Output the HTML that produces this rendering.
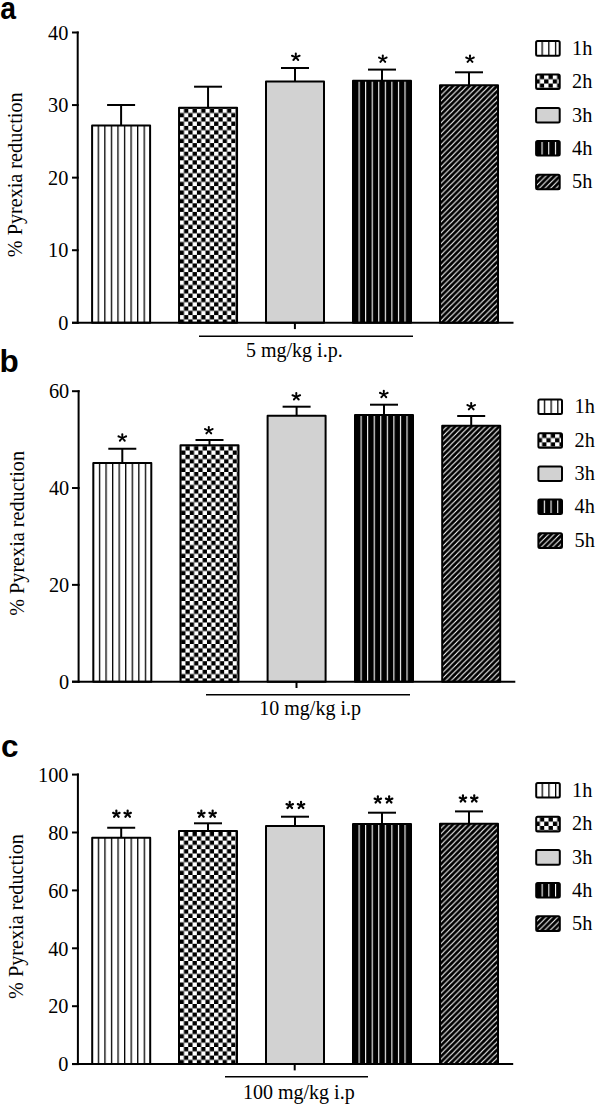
<!DOCTYPE html>
<html><head><meta charset="utf-8"><title>Pyrexia reduction</title>
<style>html,body{margin:0;padding:0;background:#fff;}svg{display:block;}.sf{font-family:"Liberation Serif",serif;}.ss{font-family:"Liberation Sans",sans-serif;}</style></head>
<body><svg width="600" height="1106" viewBox="0 0 600 1106">
<defs><pattern id="p0_a0" patternUnits="userSpaceOnUse" x="97.65" y="0" width="6.56" height="10"><rect width="6.56" height="10" fill="#fff"/><rect width="1.3" height="10" fill="#000"/></pattern><pattern id="p1_a1" patternUnits="userSpaceOnUse" x="179.7" y="108.7" width="8.6" height="8.6"><rect width="8.6" height="8.6" fill="#fff"/><rect x="4.3" width="4.3" height="4.3" fill="#000"/><rect y="4.3" width="4.3" height="4.3" fill="#000"/></pattern><pattern id="p3_a3" patternUnits="userSpaceOnUse" x="358.55" y="0" width="6.56" height="10"><rect width="6.56" height="10" fill="#000"/><rect width="1.1" height="10" fill="#fff"/></pattern><pattern id="p4_a4" patternUnits="userSpaceOnUse" x="440" y="85.3" width="5.5" height="5.5"><rect width="5.5" height="5.5" fill="#000"/><path d="M-1,6.5L6.5,-1M-3.75,3.75L3.75,-3.75M1.75,9.25L9.25,1.75" stroke="#fff" stroke-width="1.1"/></pattern><pattern id="q0_La0" patternUnits="userSpaceOnUse" x="541.5" y="0" width="6.7" height="10"><rect width="6.7" height="10" fill="#fff"/><rect width="1.3" height="10" fill="#000"/></pattern><pattern id="q1_La1" patternUnits="userSpaceOnUse" x="535.47" y="74.9" width="8.66" height="8.66"><rect width="8.66" height="8.66" fill="#fff"/><rect x="4.33" width="4.33" height="4.33" fill="#000"/><rect y="4.33" width="4.33" height="4.33" fill="#000"/></pattern><pattern id="q3_La3" patternUnits="userSpaceOnUse" x="541.5" y="0" width="6.7" height="10"><rect width="6.7" height="10" fill="#000"/><rect width="1.1" height="10" fill="#fff"/></pattern><pattern id="q4_La4" patternUnits="userSpaceOnUse" x="536.1" y="174.7" width="5.6" height="5.6"><rect width="5.6" height="5.6" fill="#000"/><path d="M-1,6.6L6.6,-1M-3.8,3.8L3.8,-3.8M1.8,9.4L9.4,1.8" stroke="#fff" stroke-width="1"/></pattern><pattern id="p0_b0" patternUnits="userSpaceOnUse" x="98.85" y="0" width="6.56" height="10"><rect width="6.56" height="10" fill="#fff"/><rect width="1.3" height="10" fill="#000"/></pattern><pattern id="p1_b1" patternUnits="userSpaceOnUse" x="181.15" y="446.2" width="8.6" height="8.6"><rect width="8.6" height="8.6" fill="#fff"/><rect x="4.3" width="4.3" height="4.3" fill="#000"/><rect y="4.3" width="4.3" height="4.3" fill="#000"/></pattern><pattern id="p3_b3" patternUnits="userSpaceOnUse" x="360.55" y="0" width="6.56" height="10"><rect width="6.56" height="10" fill="#000"/><rect width="1.1" height="10" fill="#fff"/></pattern><pattern id="p4_b4" patternUnits="userSpaceOnUse" x="442.2" y="425.7" width="5.5" height="5.5"><rect width="5.5" height="5.5" fill="#000"/><path d="M-1,6.5L6.5,-1M-3.75,3.75L3.75,-3.75M1.75,9.25L9.25,1.75" stroke="#fff" stroke-width="1.1"/></pattern><pattern id="q0_Lb0" patternUnits="userSpaceOnUse" x="543.8" y="0" width="6.7" height="10"><rect width="6.7" height="10" fill="#fff"/><rect width="1.3" height="10" fill="#000"/></pattern><pattern id="q1_Lb1" patternUnits="userSpaceOnUse" x="537.77" y="433.7" width="8.66" height="8.66"><rect width="8.66" height="8.66" fill="#fff"/><rect x="4.33" width="4.33" height="4.33" fill="#000"/><rect y="4.33" width="4.33" height="4.33" fill="#000"/></pattern><pattern id="q3_Lb3" patternUnits="userSpaceOnUse" x="543.8" y="0" width="6.7" height="10"><rect width="6.7" height="10" fill="#000"/><rect width="1.1" height="10" fill="#fff"/></pattern><pattern id="q4_Lb4" patternUnits="userSpaceOnUse" x="538.4" y="533.3" width="5.6" height="5.6"><rect width="5.6" height="5.6" fill="#000"/><path d="M-1,6.6L6.6,-1M-3.8,3.8L3.8,-3.8M1.8,9.4L9.4,1.8" stroke="#fff" stroke-width="1"/></pattern><pattern id="p0_c0" patternUnits="userSpaceOnUse" x="97.75" y="0" width="6.56" height="10"><rect width="6.56" height="10" fill="#fff"/><rect width="1.3" height="10" fill="#000"/></pattern><pattern id="p1_c1" patternUnits="userSpaceOnUse" x="179.65" y="832" width="8.6" height="8.6"><rect width="8.6" height="8.6" fill="#fff"/><rect x="4.3" width="4.3" height="4.3" fill="#000"/><rect y="4.3" width="4.3" height="4.3" fill="#000"/></pattern><pattern id="p3_c3" patternUnits="userSpaceOnUse" x="358.55" y="0" width="6.56" height="10"><rect width="6.56" height="10" fill="#000"/><rect width="1.1" height="10" fill="#fff"/></pattern><pattern id="p4_c4" patternUnits="userSpaceOnUse" x="440" y="823.7" width="5.5" height="5.5"><rect width="5.5" height="5.5" fill="#000"/><path d="M-1,6.5L6.5,-1M-3.75,3.75L3.75,-3.75M1.75,9.25L9.25,1.75" stroke="#fff" stroke-width="1.1"/></pattern><pattern id="q0_Lc0" patternUnits="userSpaceOnUse" x="541.6" y="0" width="6.7" height="10"><rect width="6.7" height="10" fill="#fff"/><rect width="1.3" height="10" fill="#000"/></pattern><pattern id="q1_Lc1" patternUnits="userSpaceOnUse" x="535.57" y="817.3" width="8.66" height="8.66"><rect width="8.66" height="8.66" fill="#fff"/><rect x="4.33" width="4.33" height="4.33" fill="#000"/><rect y="4.33" width="4.33" height="4.33" fill="#000"/></pattern><pattern id="q3_Lc3" patternUnits="userSpaceOnUse" x="541.6" y="0" width="6.7" height="10"><rect width="6.7" height="10" fill="#000"/><rect width="1.1" height="10" fill="#fff"/></pattern><pattern id="q4_Lc4" patternUnits="userSpaceOnUse" x="536.2" y="916.3" width="5.6" height="5.6"><rect width="5.6" height="5.6" fill="#000"/><path d="M-1,6.6L6.6,-1M-3.8,3.8L3.8,-3.8M1.8,9.4L9.4,1.8" stroke="#fff" stroke-width="1"/></pattern></defs>
<rect width="600" height="1106" fill="#fff"/>
<text transform="translate(0.3,18.6) scale(0.9,1)" class="ss" font-weight="bold" font-size="31.5">a</text>
<text transform="translate(22.3,174.8) rotate(-90)" text-anchor="middle" class="sf" font-size="20.2">% Pyrexia reduction</text>
<line x1="72" y1="322.8" x2="78.7" y2="322.8" stroke="#000" stroke-width="2"/>
<text x="68.3" y="330" text-anchor="end" class="sf" font-size="20.3">0</text>
<line x1="72" y1="250.23" x2="78.7" y2="250.23" stroke="#000" stroke-width="2"/>
<text x="68.3" y="257.43" text-anchor="end" class="sf" font-size="20.3">10</text>
<line x1="72" y1="177.65" x2="78.7" y2="177.65" stroke="#000" stroke-width="2"/>
<text x="68.3" y="184.85" text-anchor="end" class="sf" font-size="20.3">20</text>
<line x1="72" y1="105.07" x2="78.7" y2="105.07" stroke="#000" stroke-width="2"/>
<text x="68.3" y="112.27" text-anchor="end" class="sf" font-size="20.3">30</text>
<line x1="72" y1="32.5" x2="78.7" y2="32.5" stroke="#000" stroke-width="2"/>
<text x="68.3" y="39.7" text-anchor="end" class="sf" font-size="20.3">40</text>
<line x1="77.7" y1="31.5" x2="77.7" y2="323.8" stroke="#000" stroke-width="2"/>
<line x1="121.1" y1="105" x2="121.1" y2="125.6" stroke="#000" stroke-width="2"/>
<line x1="107.1" y1="105" x2="135.1" y2="105" stroke="#000" stroke-width="2"/>
<rect x="92.1" y="125.6" width="58" height="197.2" fill="url(#p0_a0)" stroke="#000" stroke-width="2" stroke-linejoin="round"/>
<line x1="208.05" y1="86.7" x2="208.05" y2="107.7" stroke="#000" stroke-width="2"/>
<line x1="194.05" y1="86.7" x2="222.05" y2="86.7" stroke="#000" stroke-width="2"/>
<rect x="179.05" y="107.7" width="58" height="215.1" fill="url(#p1_a1)" stroke="#000" stroke-width="2" stroke-linejoin="round"/>
<line x1="295" y1="68" x2="295" y2="81.6" stroke="#000" stroke-width="2"/>
<line x1="281" y1="68" x2="309" y2="68" stroke="#000" stroke-width="2"/>
<rect x="266" y="81.6" width="58" height="241.2" fill="#d2d2d2" stroke="#000" stroke-width="2" stroke-linejoin="round"/>
<path d="M296.55,57.3L296.85,53.55L294.75,53.55L295.05,57.3ZM296.85,53.55a1.05,1.05 0 1,0 -2.1,0a1.05,1.05 0 1,0 2.1,0ZM296.09,56.61L292.44,54.73L291.62,56.66L295.51,57.99ZM293.08,55.7a1.05,1.05 0 1,0 -2.1,0a1.05,1.05 0 1,0 2.1,0ZM296.09,57.99L299.98,56.66L299.16,54.73L295.51,56.61ZM300.62,55.7a1.05,1.05 0 1,0 -2.1,0a1.05,1.05 0 1,0 2.1,0ZM295.24,56.8L292.64,59.24L294.2,60.64L296.36,57.8ZM294.47,59.94a1.05,1.05 0 1,0 -2.1,0a1.05,1.05 0 1,0 2.1,0ZM295.24,57.8L297.4,60.64L298.96,59.24L296.36,56.8ZM299.23,59.94a1.05,1.05 0 1,0 -2.1,0a1.05,1.05 0 1,0 2.1,0Z" fill="#000"/>
<line x1="382" y1="69.6" x2="382" y2="80.7" stroke="#000" stroke-width="2"/>
<line x1="368" y1="69.6" x2="396" y2="69.6" stroke="#000" stroke-width="2"/>
<rect x="353" y="80.7" width="58" height="242.1" fill="url(#p3_a3)" stroke="#000" stroke-width="2" stroke-linejoin="round"/>
<path d="M383.55,59.2L383.85,55.45L381.75,55.45L382.05,59.2ZM383.85,55.45a1.05,1.05 0 1,0 -2.1,0a1.05,1.05 0 1,0 2.1,0ZM383.09,58.51L379.44,56.63L378.62,58.56L382.51,59.89ZM380.08,57.6a1.05,1.05 0 1,0 -2.1,0a1.05,1.05 0 1,0 2.1,0ZM383.09,59.89L386.98,58.56L386.16,56.63L382.51,58.51ZM387.62,57.6a1.05,1.05 0 1,0 -2.1,0a1.05,1.05 0 1,0 2.1,0ZM382.24,58.7L379.64,61.14L381.2,62.54L383.36,59.7ZM381.47,61.84a1.05,1.05 0 1,0 -2.1,0a1.05,1.05 0 1,0 2.1,0ZM382.24,59.7L384.4,62.54L385.96,61.14L383.36,58.7ZM386.23,61.84a1.05,1.05 0 1,0 -2.1,0a1.05,1.05 0 1,0 2.1,0Z" fill="#000"/>
<line x1="469" y1="72.3" x2="469" y2="85.3" stroke="#000" stroke-width="2"/>
<line x1="455" y1="72.3" x2="483" y2="72.3" stroke="#000" stroke-width="2"/>
<rect x="440" y="85.3" width="58" height="237.5" fill="url(#p4_a4)" stroke="#000" stroke-width="2" stroke-linejoin="round"/>
<path d="M470.75,59.2L471.05,55.45L468.95,55.45L469.25,59.2ZM471.05,55.45a1.05,1.05 0 1,0 -2.1,0a1.05,1.05 0 1,0 2.1,0ZM470.29,58.51L466.64,56.63L465.82,58.56L469.71,59.89ZM467.28,57.6a1.05,1.05 0 1,0 -2.1,0a1.05,1.05 0 1,0 2.1,0ZM470.29,59.89L474.18,58.56L473.36,56.63L469.71,58.51ZM474.82,57.6a1.05,1.05 0 1,0 -2.1,0a1.05,1.05 0 1,0 2.1,0ZM469.44,58.7L466.84,61.14L468.4,62.54L470.56,59.7ZM468.67,61.84a1.05,1.05 0 1,0 -2.1,0a1.05,1.05 0 1,0 2.1,0ZM469.44,59.7L471.6,62.54L473.16,61.14L470.56,58.7ZM473.43,61.84a1.05,1.05 0 1,0 -2.1,0a1.05,1.05 0 1,0 2.1,0Z" fill="#000"/>
<line x1="72" y1="322.8" x2="513.5" y2="322.8" stroke="#000" stroke-width="2"/>
<line x1="294.9" y1="322.8" x2="294.9" y2="329.1" stroke="#000" stroke-width="2"/>
<line x1="199" y1="336.2" x2="413" y2="336.2" stroke="#000" stroke-width="1.4"/>
<text x="246" y="357" class="sf" font-size="20">5 mg/kg i.p.</text>
<rect x="536.1" y="41.1" width="23.6" height="14.6" rx="1.5" fill="url(#q0_La0)" stroke="#000" stroke-width="2"/>
<text x="572" y="54.6" class="sf" font-size="20.3">1h</text>
<rect x="536.1" y="74.4" width="23.6" height="14.6" rx="1.5" fill="url(#q1_La1)" stroke="#000" stroke-width="2"/>
<text x="572" y="87.9" class="sf" font-size="20.3">2h</text>
<rect x="536.1" y="108" width="23.6" height="14.6" rx="1.5" fill="#d2d2d2" stroke="#000" stroke-width="2"/>
<text x="572" y="121.5" class="sf" font-size="20.3">3h</text>
<rect x="536.1" y="141" width="23.6" height="14.6" rx="1.5" fill="url(#q3_La3)" stroke="#000" stroke-width="2"/>
<text x="572" y="154.5" class="sf" font-size="20.3">4h</text>
<rect x="536.1" y="174.7" width="23.6" height="14.6" rx="1.5" fill="url(#q4_La4)" stroke="#000" stroke-width="2"/>
<text x="572" y="188.2" class="sf" font-size="20.3">5h</text>
<text x="-0.5" y="371.7" class="ss" font-weight="bold" font-size="31.5">b</text>
<text transform="translate(24.3,533.4) rotate(-90)" text-anchor="middle" class="sf" font-size="20.2">% Pyrexia reduction</text>
<line x1="72" y1="681.7" x2="79.6" y2="681.7" stroke="#000" stroke-width="2"/>
<text x="69.2" y="688.9" text-anchor="end" class="sf" font-size="20.3">0</text>
<line x1="72" y1="584.87" x2="79.6" y2="584.87" stroke="#000" stroke-width="2"/>
<text x="69.2" y="592.07" text-anchor="end" class="sf" font-size="20.3">20</text>
<line x1="72" y1="488.03" x2="79.6" y2="488.03" stroke="#000" stroke-width="2"/>
<text x="69.2" y="495.23" text-anchor="end" class="sf" font-size="20.3">40</text>
<line x1="72" y1="391.2" x2="79.6" y2="391.2" stroke="#000" stroke-width="2"/>
<text x="69.2" y="398.4" text-anchor="end" class="sf" font-size="20.3">60</text>
<line x1="78.6" y1="390.2" x2="78.6" y2="682.7" stroke="#000" stroke-width="2"/>
<line x1="122.3" y1="448.75" x2="122.3" y2="463.1" stroke="#000" stroke-width="2"/>
<line x1="108.3" y1="448.75" x2="136.3" y2="448.75" stroke="#000" stroke-width="2"/>
<rect x="93.3" y="463.1" width="58" height="218.6" fill="url(#p0_b0)" stroke="#000" stroke-width="2" stroke-linejoin="round"/>
<path d="M123.05,438L123.35,434.25L121.25,434.25L121.55,438ZM123.35,434.25a1.05,1.05 0 1,0 -2.1,0a1.05,1.05 0 1,0 2.1,0ZM122.59,437.31L118.94,435.43L118.12,437.36L122.01,438.69ZM119.58,436.4a1.05,1.05 0 1,0 -2.1,0a1.05,1.05 0 1,0 2.1,0ZM122.59,438.69L126.48,437.36L125.66,435.43L122.01,437.31ZM127.12,436.4a1.05,1.05 0 1,0 -2.1,0a1.05,1.05 0 1,0 2.1,0ZM121.74,437.5L119.14,439.94L120.7,441.34L122.86,438.5ZM120.97,440.64a1.05,1.05 0 1,0 -2.1,0a1.05,1.05 0 1,0 2.1,0ZM121.74,438.5L123.9,441.34L125.46,439.94L122.86,437.5ZM125.73,440.64a1.05,1.05 0 1,0 -2.1,0a1.05,1.05 0 1,0 2.1,0Z" fill="#000"/>
<line x1="209.5" y1="440" x2="209.5" y2="445.2" stroke="#000" stroke-width="2"/>
<line x1="195.5" y1="440" x2="223.5" y2="440" stroke="#000" stroke-width="2"/>
<rect x="180.5" y="445.2" width="58" height="236.5" fill="url(#p1_b1)" stroke="#000" stroke-width="2" stroke-linejoin="round"/>
<path d="M209.55,430.7L209.85,426.95L207.75,426.95L208.05,430.7ZM209.85,426.95a1.05,1.05 0 1,0 -2.1,0a1.05,1.05 0 1,0 2.1,0ZM209.09,430.01L205.44,428.13L204.62,430.06L208.51,431.39ZM206.08,429.1a1.05,1.05 0 1,0 -2.1,0a1.05,1.05 0 1,0 2.1,0ZM209.09,431.39L212.98,430.06L212.16,428.13L208.51,430.01ZM213.62,429.1a1.05,1.05 0 1,0 -2.1,0a1.05,1.05 0 1,0 2.1,0ZM208.24,430.2L205.64,432.64L207.2,434.04L209.36,431.2ZM207.47,433.34a1.05,1.05 0 1,0 -2.1,0a1.05,1.05 0 1,0 2.1,0ZM208.24,431.2L210.4,434.04L211.96,432.64L209.36,430.2ZM212.23,433.34a1.05,1.05 0 1,0 -2.1,0a1.05,1.05 0 1,0 2.1,0Z" fill="#000"/>
<line x1="296.6" y1="406.7" x2="296.6" y2="415.7" stroke="#000" stroke-width="2"/>
<line x1="282.6" y1="406.7" x2="310.6" y2="406.7" stroke="#000" stroke-width="2"/>
<rect x="267.6" y="415.7" width="58" height="266" fill="#d2d2d2" stroke="#000" stroke-width="2" stroke-linejoin="round"/>
<path d="M297.05,396.8L297.35,393.05L295.25,393.05L295.55,396.8ZM297.35,393.05a1.05,1.05 0 1,0 -2.1,0a1.05,1.05 0 1,0 2.1,0ZM296.59,396.11L292.94,394.23L292.12,396.16L296.01,397.49ZM293.58,395.2a1.05,1.05 0 1,0 -2.1,0a1.05,1.05 0 1,0 2.1,0ZM296.59,397.49L300.48,396.16L299.66,394.23L296.01,396.11ZM301.12,395.2a1.05,1.05 0 1,0 -2.1,0a1.05,1.05 0 1,0 2.1,0ZM295.74,396.3L293.14,398.74L294.7,400.14L296.86,397.3ZM294.97,399.44a1.05,1.05 0 1,0 -2.1,0a1.05,1.05 0 1,0 2.1,0ZM295.74,397.3L297.9,400.14L299.46,398.74L296.86,396.3ZM299.73,399.44a1.05,1.05 0 1,0 -2.1,0a1.05,1.05 0 1,0 2.1,0Z" fill="#000"/>
<line x1="384" y1="404.7" x2="384" y2="414.9" stroke="#000" stroke-width="2"/>
<line x1="370" y1="404.7" x2="398" y2="404.7" stroke="#000" stroke-width="2"/>
<rect x="355" y="414.9" width="58" height="266.8" fill="url(#p3_b3)" stroke="#000" stroke-width="2" stroke-linejoin="round"/>
<path d="M384.55,394.5L384.85,390.75L382.75,390.75L383.05,394.5ZM384.85,390.75a1.05,1.05 0 1,0 -2.1,0a1.05,1.05 0 1,0 2.1,0ZM384.09,393.81L380.44,391.93L379.62,393.86L383.51,395.19ZM381.08,392.9a1.05,1.05 0 1,0 -2.1,0a1.05,1.05 0 1,0 2.1,0ZM384.09,395.19L387.98,393.86L387.16,391.93L383.51,393.81ZM388.62,392.9a1.05,1.05 0 1,0 -2.1,0a1.05,1.05 0 1,0 2.1,0ZM383.24,394L380.64,396.44L382.2,397.84L384.36,395ZM382.47,397.14a1.05,1.05 0 1,0 -2.1,0a1.05,1.05 0 1,0 2.1,0ZM383.24,395L385.4,397.84L386.96,396.44L384.36,394ZM387.23,397.14a1.05,1.05 0 1,0 -2.1,0a1.05,1.05 0 1,0 2.1,0Z" fill="#000"/>
<line x1="471.2" y1="416" x2="471.2" y2="425.7" stroke="#000" stroke-width="2"/>
<line x1="457.2" y1="416" x2="485.2" y2="416" stroke="#000" stroke-width="2"/>
<rect x="442.2" y="425.7" width="58" height="256" fill="url(#p4_b4)" stroke="#000" stroke-width="2" stroke-linejoin="round"/>
<path d="M471.95,406.7L472.25,402.95L470.15,402.95L470.45,406.7ZM472.25,402.95a1.05,1.05 0 1,0 -2.1,0a1.05,1.05 0 1,0 2.1,0ZM471.49,406.01L467.84,404.13L467.02,406.06L470.91,407.39ZM468.48,405.1a1.05,1.05 0 1,0 -2.1,0a1.05,1.05 0 1,0 2.1,0ZM471.49,407.39L475.38,406.06L474.56,404.13L470.91,406.01ZM476.02,405.1a1.05,1.05 0 1,0 -2.1,0a1.05,1.05 0 1,0 2.1,0ZM470.64,406.2L468.04,408.64L469.6,410.04L471.76,407.2ZM469.87,409.34a1.05,1.05 0 1,0 -2.1,0a1.05,1.05 0 1,0 2.1,0ZM470.64,407.2L472.8,410.04L474.36,408.64L471.76,406.2ZM474.63,409.34a1.05,1.05 0 1,0 -2.1,0a1.05,1.05 0 1,0 2.1,0Z" fill="#000"/>
<line x1="72" y1="681.7" x2="515.3" y2="681.7" stroke="#000" stroke-width="2"/>
<line x1="296.5" y1="681.7" x2="296.5" y2="688" stroke="#000" stroke-width="2"/>
<line x1="206" y1="694.7" x2="410" y2="694.7" stroke="#000" stroke-width="1.4"/>
<text x="259.3" y="714.7" class="sf" font-size="20">10 mg/kg i.p</text>
<rect x="538.4" y="399.5" width="23.6" height="14.6" rx="1.5" fill="url(#q0_Lb0)" stroke="#000" stroke-width="2"/>
<text x="574.5" y="413" class="sf" font-size="20.3">1h</text>
<rect x="538.4" y="433.2" width="23.6" height="14.6" rx="1.5" fill="url(#q1_Lb1)" stroke="#000" stroke-width="2"/>
<text x="574.5" y="446.7" class="sf" font-size="20.3">2h</text>
<rect x="538.4" y="466.5" width="23.6" height="14.6" rx="1.5" fill="#d2d2d2" stroke="#000" stroke-width="2"/>
<text x="574.5" y="480" class="sf" font-size="20.3">3h</text>
<rect x="538.4" y="499.5" width="23.6" height="14.6" rx="1.5" fill="url(#q3_Lb3)" stroke="#000" stroke-width="2"/>
<text x="574.5" y="513" class="sf" font-size="20.3">4h</text>
<rect x="538.4" y="533.3" width="23.6" height="14.6" rx="1.5" fill="url(#q4_Lb4)" stroke="#000" stroke-width="2"/>
<text x="574.5" y="546.8" class="sf" font-size="20.3">5h</text>
<text x="1" y="756.5" class="ss" font-weight="bold" font-size="31.5">c</text>
<text transform="translate(22.9,916.5) rotate(-90)" text-anchor="middle" class="sf" font-size="20.2">% Pyrexia reduction</text>
<line x1="72" y1="1064.1" x2="78.9" y2="1064.1" stroke="#000" stroke-width="2"/>
<text x="68.5" y="1071.3" text-anchor="end" class="sf" font-size="20.3">0</text>
<line x1="72" y1="1006.2" x2="78.9" y2="1006.2" stroke="#000" stroke-width="2"/>
<text x="68.5" y="1013.4" text-anchor="end" class="sf" font-size="20.3">20</text>
<line x1="72" y1="948.3" x2="78.9" y2="948.3" stroke="#000" stroke-width="2"/>
<text x="68.5" y="955.5" text-anchor="end" class="sf" font-size="20.3">40</text>
<line x1="72" y1="890.4" x2="78.9" y2="890.4" stroke="#000" stroke-width="2"/>
<text x="68.5" y="897.6" text-anchor="end" class="sf" font-size="20.3">60</text>
<line x1="72" y1="832.5" x2="78.9" y2="832.5" stroke="#000" stroke-width="2"/>
<text x="68.5" y="839.7" text-anchor="end" class="sf" font-size="20.3">80</text>
<line x1="72" y1="774.6" x2="78.9" y2="774.6" stroke="#000" stroke-width="2"/>
<text x="68.5" y="781.8" text-anchor="end" class="sf" font-size="20.3">100</text>
<line x1="77.9" y1="773.6" x2="77.9" y2="1065.1" stroke="#000" stroke-width="2"/>
<line x1="121.2" y1="827.75" x2="121.2" y2="837.75" stroke="#000" stroke-width="2"/>
<line x1="107.2" y1="827.75" x2="135.2" y2="827.75" stroke="#000" stroke-width="2"/>
<rect x="92.2" y="837.75" width="58" height="226.35" fill="url(#p0_c0)" stroke="#000" stroke-width="2" stroke-linejoin="round"/>
<path d="M117.1,814.25L117.5,810.7L115.2,810.7L115.6,814.25ZM117.5,810.7a1.15,1.15 0 1,0 -2.3,0a1.15,1.15 0 1,0 2.3,0ZM116.64,813.56L113.62,811.84L112.72,813.96L116.06,814.94ZM114.32,812.9a1.15,1.15 0 1,0 -2.3,0a1.15,1.15 0 1,0 2.3,0ZM116.64,814.94L119.98,813.96L119.08,811.84L116.06,813.56ZM120.68,812.9a1.15,1.15 0 1,0 -2.3,0a1.15,1.15 0 1,0 2.3,0ZM115.79,813.75L113.25,815.97L114.96,817.51L116.91,814.75ZM115.26,816.74a1.15,1.15 0 1,0 -2.3,0a1.15,1.15 0 1,0 2.3,0ZM115.79,814.75L117.74,817.51L119.45,815.97L116.91,813.75ZM119.74,816.74a1.15,1.15 0 1,0 -2.3,0a1.15,1.15 0 1,0 2.3,0Z" fill="#000"/>
<path d="M128.4,814.25L128.8,810.7L126.5,810.7L126.9,814.25ZM128.8,810.7a1.15,1.15 0 1,0 -2.3,0a1.15,1.15 0 1,0 2.3,0ZM127.94,813.56L124.92,811.84L124.02,813.96L127.36,814.94ZM125.62,812.9a1.15,1.15 0 1,0 -2.3,0a1.15,1.15 0 1,0 2.3,0ZM127.94,814.94L131.28,813.96L130.38,811.84L127.36,813.56ZM131.98,812.9a1.15,1.15 0 1,0 -2.3,0a1.15,1.15 0 1,0 2.3,0ZM127.09,813.75L124.55,815.97L126.26,817.51L128.21,814.75ZM126.56,816.74a1.15,1.15 0 1,0 -2.3,0a1.15,1.15 0 1,0 2.3,0ZM127.09,814.75L129.04,817.51L130.75,815.97L128.21,813.75ZM131.04,816.74a1.15,1.15 0 1,0 -2.3,0a1.15,1.15 0 1,0 2.3,0Z" fill="#000"/>
<line x1="208" y1="823.3" x2="208" y2="831" stroke="#000" stroke-width="2"/>
<line x1="194" y1="823.3" x2="222" y2="823.3" stroke="#000" stroke-width="2"/>
<rect x="179" y="831" width="58" height="233.1" fill="url(#p1_c1)" stroke="#000" stroke-width="2" stroke-linejoin="round"/>
<path d="M202.1,814.25L202.5,810.7L200.2,810.7L200.6,814.25ZM202.5,810.7a1.15,1.15 0 1,0 -2.3,0a1.15,1.15 0 1,0 2.3,0ZM201.64,813.56L198.62,811.84L197.72,813.96L201.06,814.94ZM199.32,812.9a1.15,1.15 0 1,0 -2.3,0a1.15,1.15 0 1,0 2.3,0ZM201.64,814.94L204.98,813.96L204.08,811.84L201.06,813.56ZM205.68,812.9a1.15,1.15 0 1,0 -2.3,0a1.15,1.15 0 1,0 2.3,0ZM200.79,813.75L198.25,815.97L199.96,817.51L201.91,814.75ZM200.26,816.74a1.15,1.15 0 1,0 -2.3,0a1.15,1.15 0 1,0 2.3,0ZM200.79,814.75L202.74,817.51L204.45,815.97L201.91,813.75ZM204.74,816.74a1.15,1.15 0 1,0 -2.3,0a1.15,1.15 0 1,0 2.3,0Z" fill="#000"/>
<path d="M213.4,814.25L213.8,810.7L211.5,810.7L211.9,814.25ZM213.8,810.7a1.15,1.15 0 1,0 -2.3,0a1.15,1.15 0 1,0 2.3,0ZM212.94,813.56L209.92,811.84L209.02,813.96L212.36,814.94ZM210.62,812.9a1.15,1.15 0 1,0 -2.3,0a1.15,1.15 0 1,0 2.3,0ZM212.94,814.94L216.28,813.96L215.38,811.84L212.36,813.56ZM216.98,812.9a1.15,1.15 0 1,0 -2.3,0a1.15,1.15 0 1,0 2.3,0ZM212.09,813.75L209.55,815.97L211.26,817.51L213.21,814.75ZM211.56,816.74a1.15,1.15 0 1,0 -2.3,0a1.15,1.15 0 1,0 2.3,0ZM212.09,814.75L214.04,817.51L215.75,815.97L213.21,813.75ZM216.04,816.74a1.15,1.15 0 1,0 -2.3,0a1.15,1.15 0 1,0 2.3,0Z" fill="#000"/>
<line x1="295" y1="816.7" x2="295" y2="826" stroke="#000" stroke-width="2"/>
<line x1="281" y1="816.7" x2="309" y2="816.7" stroke="#000" stroke-width="2"/>
<rect x="266" y="826" width="58" height="238.1" fill="#d2d2d2" stroke="#000" stroke-width="2" stroke-linejoin="round"/>
<path d="M290.5,805.5L290.9,801.95L288.6,801.95L289,805.5ZM290.9,801.95a1.15,1.15 0 1,0 -2.3,0a1.15,1.15 0 1,0 2.3,0ZM290.04,804.81L287.02,803.09L286.12,805.21L289.46,806.19ZM287.72,804.15a1.15,1.15 0 1,0 -2.3,0a1.15,1.15 0 1,0 2.3,0ZM290.04,806.19L293.38,805.21L292.48,803.09L289.46,804.81ZM294.08,804.15a1.15,1.15 0 1,0 -2.3,0a1.15,1.15 0 1,0 2.3,0ZM289.19,805L286.65,807.22L288.36,808.76L290.31,806ZM288.66,807.99a1.15,1.15 0 1,0 -2.3,0a1.15,1.15 0 1,0 2.3,0ZM289.19,806L291.14,808.76L292.85,807.22L290.31,805ZM293.14,807.99a1.15,1.15 0 1,0 -2.3,0a1.15,1.15 0 1,0 2.3,0Z" fill="#000"/>
<path d="M301.8,805.5L302.2,801.95L299.9,801.95L300.3,805.5ZM302.2,801.95a1.15,1.15 0 1,0 -2.3,0a1.15,1.15 0 1,0 2.3,0ZM301.34,804.81L298.32,803.09L297.42,805.21L300.76,806.19ZM299.02,804.15a1.15,1.15 0 1,0 -2.3,0a1.15,1.15 0 1,0 2.3,0ZM301.34,806.19L304.68,805.21L303.78,803.09L300.76,804.81ZM305.38,804.15a1.15,1.15 0 1,0 -2.3,0a1.15,1.15 0 1,0 2.3,0ZM300.49,805L297.95,807.22L299.66,808.76L301.61,806ZM299.96,807.99a1.15,1.15 0 1,0 -2.3,0a1.15,1.15 0 1,0 2.3,0ZM300.49,806L302.44,808.76L304.15,807.22L301.61,805ZM304.44,807.99a1.15,1.15 0 1,0 -2.3,0a1.15,1.15 0 1,0 2.3,0Z" fill="#000"/>
<line x1="382" y1="812.7" x2="382" y2="823.9" stroke="#000" stroke-width="2"/>
<line x1="368" y1="812.7" x2="396" y2="812.7" stroke="#000" stroke-width="2"/>
<rect x="353" y="823.9" width="58" height="240.2" fill="url(#p3_c3)" stroke="#000" stroke-width="2" stroke-linejoin="round"/>
<path d="M378.6,800L379,796.45L376.7,796.45L377.1,800ZM379,796.45a1.15,1.15 0 1,0 -2.3,0a1.15,1.15 0 1,0 2.3,0ZM378.14,799.31L375.12,797.59L374.22,799.71L377.56,800.69ZM375.82,798.65a1.15,1.15 0 1,0 -2.3,0a1.15,1.15 0 1,0 2.3,0ZM378.14,800.69L381.48,799.71L380.58,797.59L377.56,799.31ZM382.18,798.65a1.15,1.15 0 1,0 -2.3,0a1.15,1.15 0 1,0 2.3,0ZM377.29,799.5L374.75,801.72L376.46,803.26L378.41,800.5ZM376.76,802.49a1.15,1.15 0 1,0 -2.3,0a1.15,1.15 0 1,0 2.3,0ZM377.29,800.5L379.24,803.26L380.95,801.72L378.41,799.5ZM381.24,802.49a1.15,1.15 0 1,0 -2.3,0a1.15,1.15 0 1,0 2.3,0Z" fill="#000"/>
<path d="M389.9,800L390.3,796.45L388,796.45L388.4,800ZM390.3,796.45a1.15,1.15 0 1,0 -2.3,0a1.15,1.15 0 1,0 2.3,0ZM389.44,799.31L386.42,797.59L385.52,799.71L388.86,800.69ZM387.12,798.65a1.15,1.15 0 1,0 -2.3,0a1.15,1.15 0 1,0 2.3,0ZM389.44,800.69L392.78,799.71L391.88,797.59L388.86,799.31ZM393.48,798.65a1.15,1.15 0 1,0 -2.3,0a1.15,1.15 0 1,0 2.3,0ZM388.59,799.5L386.05,801.72L387.76,803.26L389.71,800.5ZM388.06,802.49a1.15,1.15 0 1,0 -2.3,0a1.15,1.15 0 1,0 2.3,0ZM388.59,800.5L390.54,803.26L392.25,801.72L389.71,799.5ZM392.54,802.49a1.15,1.15 0 1,0 -2.3,0a1.15,1.15 0 1,0 2.3,0Z" fill="#000"/>
<line x1="469" y1="811.4" x2="469" y2="823.7" stroke="#000" stroke-width="2"/>
<line x1="455" y1="811.4" x2="483" y2="811.4" stroke="#000" stroke-width="2"/>
<rect x="440" y="823.7" width="58" height="240.4" fill="url(#p4_c4)" stroke="#000" stroke-width="2" stroke-linejoin="round"/>
<path d="M463.7,799L464.1,795.45L461.8,795.45L462.2,799ZM464.1,795.45a1.15,1.15 0 1,0 -2.3,0a1.15,1.15 0 1,0 2.3,0ZM463.24,798.31L460.22,796.59L459.32,798.71L462.66,799.69ZM460.92,797.65a1.15,1.15 0 1,0 -2.3,0a1.15,1.15 0 1,0 2.3,0ZM463.24,799.69L466.58,798.71L465.68,796.59L462.66,798.31ZM467.28,797.65a1.15,1.15 0 1,0 -2.3,0a1.15,1.15 0 1,0 2.3,0ZM462.39,798.5L459.85,800.72L461.56,802.26L463.51,799.5ZM461.86,801.49a1.15,1.15 0 1,0 -2.3,0a1.15,1.15 0 1,0 2.3,0ZM462.39,799.5L464.34,802.26L466.05,800.72L463.51,798.5ZM466.34,801.49a1.15,1.15 0 1,0 -2.3,0a1.15,1.15 0 1,0 2.3,0Z" fill="#000"/>
<path d="M475,799L475.4,795.45L473.1,795.45L473.5,799ZM475.4,795.45a1.15,1.15 0 1,0 -2.3,0a1.15,1.15 0 1,0 2.3,0ZM474.54,798.31L471.52,796.59L470.62,798.71L473.96,799.69ZM472.22,797.65a1.15,1.15 0 1,0 -2.3,0a1.15,1.15 0 1,0 2.3,0ZM474.54,799.69L477.88,798.71L476.98,796.59L473.96,798.31ZM478.58,797.65a1.15,1.15 0 1,0 -2.3,0a1.15,1.15 0 1,0 2.3,0ZM473.69,798.5L471.15,800.72L472.86,802.26L474.81,799.5ZM473.16,801.49a1.15,1.15 0 1,0 -2.3,0a1.15,1.15 0 1,0 2.3,0ZM473.69,799.5L475.64,802.26L477.35,800.72L474.81,798.5ZM477.64,801.49a1.15,1.15 0 1,0 -2.3,0a1.15,1.15 0 1,0 2.3,0Z" fill="#000"/>
<line x1="72" y1="1064.1" x2="513.2" y2="1064.1" stroke="#000" stroke-width="2"/>
<line x1="294.7" y1="1064.1" x2="294.7" y2="1070.4" stroke="#000" stroke-width="2"/>
<line x1="225" y1="1076.8" x2="368" y2="1076.8" stroke="#000" stroke-width="1.4"/>
<text x="243" y="1099.2" class="sf" font-size="20">100 mg/kg i.p</text>
<rect x="536.2" y="783" width="23.6" height="14.6" rx="1.5" fill="url(#q0_Lc0)" stroke="#000" stroke-width="2"/>
<text x="572" y="796.5" class="sf" font-size="20.3">1h</text>
<rect x="536.2" y="816.8" width="23.6" height="14.6" rx="1.5" fill="url(#q1_Lc1)" stroke="#000" stroke-width="2"/>
<text x="572" y="830.3" class="sf" font-size="20.3">2h</text>
<rect x="536.2" y="850.1" width="23.6" height="14.6" rx="1.5" fill="#d2d2d2" stroke="#000" stroke-width="2"/>
<text x="572" y="863.6" class="sf" font-size="20.3">3h</text>
<rect x="536.2" y="883" width="23.6" height="14.6" rx="1.5" fill="url(#q3_Lc3)" stroke="#000" stroke-width="2"/>
<text x="572" y="896.5" class="sf" font-size="20.3">4h</text>
<rect x="536.2" y="916.3" width="23.6" height="14.6" rx="1.5" fill="url(#q4_Lc4)" stroke="#000" stroke-width="2"/>
<text x="572" y="929.8" class="sf" font-size="20.3">5h</text>
</svg></body></html>
